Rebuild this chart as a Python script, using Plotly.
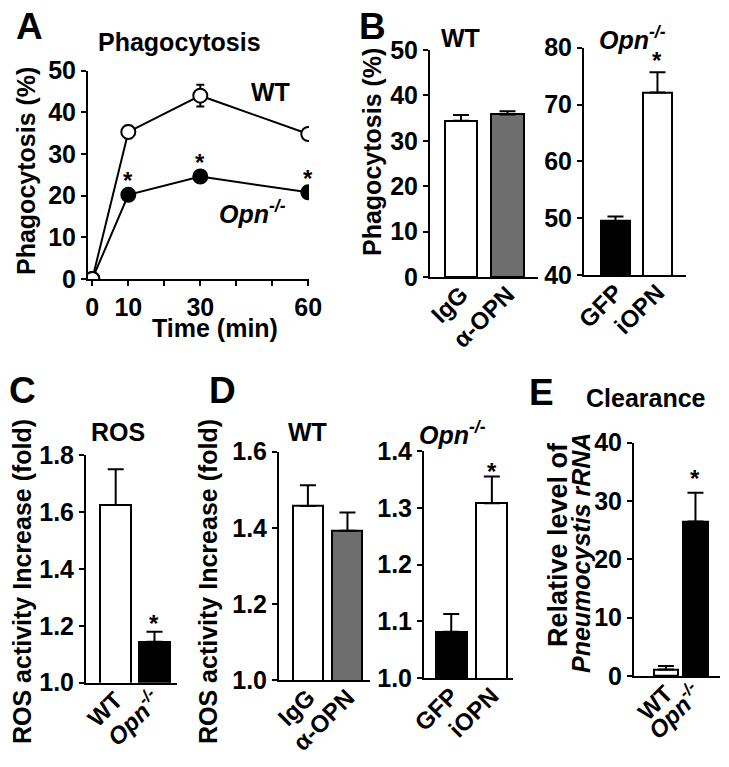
import plotly.graph_objects as go

W, H = 729, 767
FAM = "Liberation Sans, Arial, sans-serif"

# ---------------- data ----------------
# Panel A: phagocytosis time course
time_min = [0, 10, 30, 60]
a_wt = [0, 35.3, 44.0, 34.8]
a_wt_err = [0, 1.5, 2.6, 1.4]
a_opn = [0, 20.2, 24.6, 20.8]
a_opn_err = [0, 0.7, 0.7, 0.7]
a_stars_x = [10, 30, 60]
a_tick_labels = [0, 10, 30, 60]
a_minor_ticks = [20, 40, 50]

# Panel B: phagocytosis bars
b_wt_cats = ["IgG", "α-OPN"]
b_wt_vals = [34.4, 35.8]
b_wt_err = [1.3, 0.7]
b_opn_cats = ["GFP", "iOPN"]
b_opn_vals = [49.5, 72.1]
b_opn_err = [0.8, 3.6]

# Panel C: ROS
c_cats = ["WT", "<i>Opn</i><sup><i>-/-</i></sup>"]
c_vals = [1.624, 1.144]
c_err = [0.126, 0.035]

# Panel D: ROS
d_wt_cats = ["IgG", "α-OPN"]
d_wt_vals = [1.457, 1.392]
d_wt_err = [0.055, 0.048]
d_opn_cats = ["GFP", "iOPN"]
d_opn_vals = [1.082, 1.308]
d_opn_err = [0.031, 0.047]

# Panel E: clearance
e_cats = ["WT", "<i>Opn</i><sup><i>-/-</i></sup>"]
e_vals = [1.1, 26.5]
e_err = [0.6, 4.9]

WHITE, GREY, BLACK = "white", "#6e6e6e", "black"


def px(x):
    return x / W


def py(y):
    return 1 - y / H


fig = go.Figure()

# ---------- Panel A ----------
fig.add_trace(go.Scatter(
    x=time_min, y=a_opn, mode="lines+markers", xaxis="x", yaxis="y",
    line=dict(color=BLACK, width=2),
    marker=dict(size=14, color=BLACK, line=dict(color=BLACK, width=2)),
    error_y=dict(type="data", array=a_opn_err, color=BLACK, thickness=2, width=4),
    showlegend=False))
fig.add_trace(go.Scatter(
    x=time_min, y=a_wt, mode="lines+markers", xaxis="x", yaxis="y",
    line=dict(color=BLACK, width=2),
    marker=dict(size=14, color=WHITE, line=dict(color=BLACK, width=2)),
    error_y=dict(type="data", array=a_wt_err, color=BLACK, thickness=2, width=4),
    showlegend=False))


def add_bars(vals, errs, colors, xa, ya, width):
    fig.add_trace(go.Bar(
        x=list(range(len(vals))), y=vals, xaxis=xa, yaxis=ya, width=width,
        marker=dict(color=colors, line=dict(color=BLACK, width=2)),
        error_y=dict(type="data", symmetric=False, array=errs,
                     arrayminus=[0] * len(errs), color=BLACK, thickness=2, width=8),
        showlegend=False))


add_bars(b_wt_vals, b_wt_err, [WHITE, GREY], "x2", "y2", 0.69)
add_bars(b_opn_vals, b_opn_err, [BLACK, WHITE], "x3", "y3", 0.69)
add_bars(c_vals, c_err, [WHITE, BLACK], "x4", "y4", 0.8)
add_bars(d_wt_vals, d_wt_err, [WHITE, GREY], "x5", "y5", 0.76)
add_bars(d_opn_vals, d_opn_err, [BLACK, WHITE], "x6", "y6", 0.76)
add_bars(e_vals, e_err, [WHITE, BLACK], "x7", "y7", 0.82)

TICKF = dict(family=FAM, size=25, color=BLACK, weight="bold")
CATF = dict(family=FAM, size=24, color=BLACK, weight="bold")

common = dict(showline=True, linewidth=2, linecolor=BLACK, showgrid=False,
              zeroline=False, fixedrange=True, automargin=False)


def yaxis(dom_px, rng, dtick, fmt, anchor):
    return dict(domain=[py(dom_px[1]), py(dom_px[0])], range=rng, dtick=dtick,
                tick0=rng[0], tickformat=fmt, ticks="outside", ticklen=5,
                tickwidth=2, tickcolor=BLACK, tickfont=TICKF, anchor=anchor,
                **common)


def xcat(dom_px, rng, cats, anchor):
    return dict(domain=[px(dom_px[0]), px(dom_px[1])], range=rng,
                tickvals=list(range(len(cats))), ticktext=cats, tickangle=-45,
                ticks="", tickfont=CATF, anchor=anchor, ticklabelstandoff=-8,
                **common)


layout_axes = dict(
    xaxis=dict(domain=[px(88), px(309)], range=[-1.2, 60.2],
               tickvals=a_tick_labels,
               ticks="outside", ticklen=5, tickwidth=2, tickcolor=BLACK,
               minor=dict(tickvals=a_minor_ticks, ticks="outside", ticklen=5,
                          tickwidth=2, tickcolor=BLACK),
               tickfont=TICKF, anchor="y", **common),
    yaxis=yaxis((70.7, 279), [0, 50], 10, "d", "x"),
    xaxis2=xcat((430, 538), [-0.667, 1.656], b_wt_cats, "y2"),
    yaxis2=yaxis((50, 277), [0, 50], 10, "d", "x2"),
    xaxis3=xcat((584, 686), [-0.75, 1.68], b_opn_cats, "y3"),
    yaxis3=yaxis((47.7, 275), [40, 80], 10, "d", "x3"),
    xaxis4=xcat((86, 177), [-0.765, 1.58], c_cats, "y4"),
    yaxis4=yaxis((455, 682.7), [1.0, 1.8], 0.2, ".1f", "x4"),
    xaxis5=xcat((279, 370), [-0.73, 1.57], d_wt_cats, "y5"),
    yaxis5=yaxis((451.7, 680), [1.0, 1.6], 0.2, ".1f", "x5"),
    xaxis6=xcat((424, 513), [-0.67, 1.52], d_opn_cats, "y6"),
    yaxis6=yaxis((451, 678.3), [1.0, 1.4], 0.1, ".1f", "x6"),
    xaxis7=xcat((634, 720), [-1.08, 1.83], e_cats, "y7"),
    yaxis7=yaxis((442.7, 676), [0, 40], 10, "d", "x7"),
)

ann = []


def text(x, y, s, size=25, angle=0, bold=True):
    ann.append(dict(x=px(x), y=py(y), xref="paper", yref="paper", text=s,
                    showarrow=False, textangle=angle, xanchor="center",
                    yanchor="middle",
                    font=dict(family=FAM, size=size, color=BLACK,
                              weight="bold" if bold else "normal")))


OPN = "<i>Opn</i><sup><i>-/-</i></sup>"

# panel letters
text(29, 27, "A", 37)
text(372, 27, "B", 37)
text(23, 390, "C", 37)
text(222, 390, "D", 37)
text(541, 392, "E", 37)

# titles
text(179, 42, "Phagocytosis", 25)
text(460, 38, "WT", 25)
text(632, 38, OPN, 25)
text(118, 432, "ROS", 25)
text(307, 432, "WT", 25)
text(453, 433, OPN, 25)
text(646, 398, "Clearance", 25)

# in-plot labels A
text(270, 92, "WT", 25)
text(252, 212, OPN, 25)

# axis titles
text(26, 171, "Phagocytosis (%)", 25, -90)
text(215, 328, "Time (min)", 25)
text(372, 152, "Phagocytosis (%)", 25, -90)
text(22, 582, "ROS activity Increase (fold)", 25, -90)
text(208, 582, "ROS activity Increase (fold)", 25, -90)
text(558, 545, "Relative level of", 27, -90)
text(581, 553, "<i>Pneumocystis rRNA</i>", 25, -90)


# significance stars tied to data
def star(xref, yref, x, y, shift):
    ann.append(dict(x=x, y=y, xref=xref, yref=yref, text="*", showarrow=False,
                    xanchor="center", yanchor="middle", yshift=shift,
                    font=dict(family=FAM, size=24, color=BLACK, weight="bold")))


for t in a_stars_x:
    i = time_min.index(t)
    star("x", "y", t, a_opn[i], 14)
star("x3", "y3", 1, b_opn_vals[1] + b_opn_err[1], 12)
star("x4", "y4", 1, c_vals[1] + c_err[1], 8)
star("x6", "y6", 1, d_opn_vals[1] + d_opn_err[1], 5)
star("x7", "y7", 1, e_vals[1] + e_err[1], 14)

fig.update_layout(width=W, height=H, margin=dict(l=0, r=0, t=0, b=0, pad=0),
                  paper_bgcolor="white", plot_bgcolor="white",
                  annotations=ann, showlegend=False, bargap=0,
                  font=dict(family=FAM, color=BLACK), **layout_axes)

fig.write_html("out.html", config={"displayModeBar": False},
               post_script="document.body.style.margin='0';"
                           "document.body.style.padding='0';")
